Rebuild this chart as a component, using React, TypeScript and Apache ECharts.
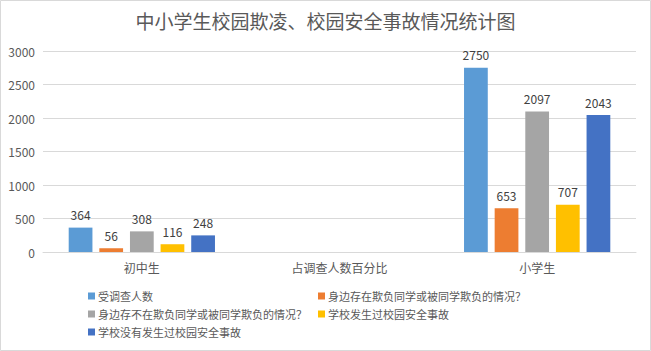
import React, { useEffect, useRef } from "react";
import * as echarts from "echarts";

const categories = ["初中生", "占调查人数百分比", "小学生"];
const seriesNames = [
  "受调查人数",
  "身边存在欺负同学或被同学欺负的情况？",
  "身边存不在欺负同学或被同学欺负的情况？",
  "学校发生过校园安全事故",
  "学校没有发生过校园安全事故",
];
const surveyed = [364, null, 2750];
const bullyYes = [56, null, 653];
const bullyNo = [308, null, 2097];
const accidentYes = [116, null, 707];
const accidentNo = [248, null, 2043];
const yTicks = [0, 500, 1000, 1500, 2000, 2500, 3000];

const colors = ["#5b9bd5", "#ed7d31", "#a5a5a5", "#ffc000", "#4472c4"];
const FONT = "'Noto Sans CJK SC', 'Microsoft YaHei', sans-serif";

export default function App() {
  const ref = useRef<HTMLDivElement>(null);
  useEffect(() => {
    const chart = echarts.init(ref.current!, null, { renderer: "svg" });
    const values = [surveyed, bullyYes, bullyNo, accidentYes, accidentNo];
    const legendText = {
      fontFamily: FONT,
      fontSize: 11,
      lineHeight: 14,
      color: "#595959",
      padding: [0, 0, 0, -2],
    };
    chart.setOption({
      animation: false,
      color: colors,
      textStyle: { fontFamily: FONT },
      title: {
        text: "中小学生校园欺凌、校园安全事故情况统计图",
        left: "center",
        top: 6,
        textStyle: { fontFamily: FONT, fontSize: 19, fontWeight: "normal", color: "#595959" },
      },
      graphic: [
        {
          type: "rect",
          shape: { x: 0.5, y: 0.5, width: 650, height: 350 },
          style: { fill: "none", stroke: "#d9d9d9", lineWidth: 1 },
          silent: true,
        },
      ],
      legend: [
        {
          data: [seriesNames[0], seriesNames[2], seriesNames[4]],
          orient: "vertical",
          left: 83,
          top: 284,
          itemWidth: 7,
          itemHeight: 7,
          itemGap: 4,
          icon: "rect",
          textStyle: legendText,
        },
        {
          data: [seriesNames[1], seriesNames[3]],
          orient: "vertical",
          left: 313,
          top: 284,
          itemWidth: 7,
          itemHeight: 7,
          itemGap: 4,
          icon: "rect",
          textStyle: legendText,
        },
      ],
      grid: { left: 43, right: 15, top: 51, bottom: 99, containLabel: false },
      xAxis: {
        type: "category",
        data: categories,
        axisLine: { lineStyle: { color: "#d9d9d9" } },
        axisTick: { show: false },
        axisLabel: { color: "#595959", fontSize: 12, fontFamily: FONT, margin: 9 },
      },
      yAxis: {
        type: "value",
        min: yTicks[0],
        max: yTicks[yTicks.length - 1],
        interval: 500,
        axisLine: { show: false },
        axisTick: { show: false },
        splitLine: { lineStyle: { color: "#d9d9d9" } },
        axisLabel: {
          color: "#595959",
          fontSize: 12,
          fontFamily: FONT,
          margin: 8,
          formatter: (v: number) => String(v),
        },
      },
      series: seriesNames.map((name, i) => ({
        name,
        type: "bar",
        data: values[i],
        barGap: "29%",
        barCategoryGap: "26%",
        label: {
          show: true,
          position: "top",
          distance: 7,
          color: "#404040",
          fontSize: 12,
          fontFamily: FONT,
        },
      })),
    });
    return () => chart.dispose();
  }, []);
  return (
    <div
      ref={ref}
      style={{ position: "fixed", left: 0, top: 0, width: 651, height: 351, background: "#fff" }}
    />
  );
}
